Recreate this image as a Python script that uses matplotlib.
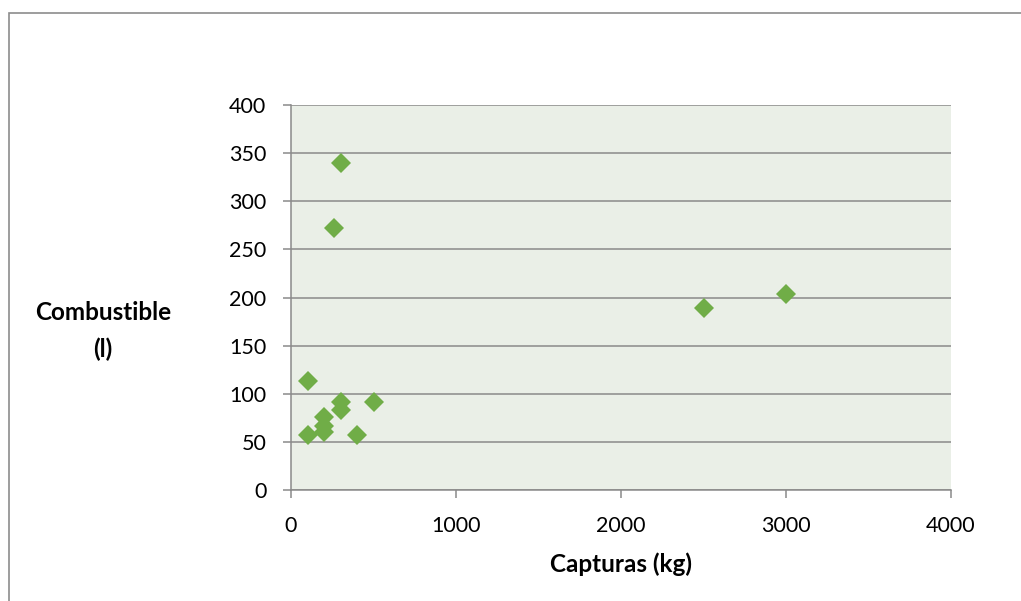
import matplotlib
matplotlib.use("Agg")
import matplotlib.pyplot as plt
from matplotlib.patches import Rectangle

capturas = [100, 300, 260, 2500, 3000, 100, 200, 200, 200, 300, 300, 400, 500]
combustible = [113, 340, 272, 189, 204, 57, 76, 67, 60, 91, 83, 57, 91]
xticks = [0, 1000, 2000, 3000, 4000]
yticks = [0, 50, 100, 150, 200, 250, 300, 350, 400]

W, H = 1021, 601
fig = plt.figure(figsize=(W/100, H/100), dpi=100)
plt.rcParams['font.family'] = ['Lato', 'DejaVu Sans']

# outer chart border (cropped at right/bottom)
fig.patches.append(Rectangle((9/W, -0.1), 1.2, 1 - 13/H + 0.1, transform=fig.transFigure,
                             fill=False, edgecolor='#8c8c8c', linewidth=1.2))

ax = fig.add_axes([291/W, 1 - 490/H, (951-291)/W, (490-105)/H])
ax.set_facecolor('#EAEFE7')
ax.set_xlim(0, 4000)
ax.set_ylim(0, 400)
ax.set_xticks(xticks)
ax.set_yticks(yticks)
ax.grid(axis='y', color='#8a8a8a', linewidth=1.1)
ax.set_axisbelow(True)
for s in ['top', 'right']:
    ax.spines[s].set_visible(False)
for s in ['left', 'bottom']:
    ax.spines[s].set_color('#8a8a8a')
    ax.spines[s].set_linewidth(1.1)
ax.tick_params(axis='both', colors='#8a8a8a', labelcolor='black', labelsize=15.5, length=5.8, width=1.1)
ax.tick_params(axis='y', pad=12)
ax.tick_params(axis='x', pad=13)

ax.plot(capturas, combustible, linestyle='none', marker='D', markersize=10.5,
        color='#70AD47', markeredgewidth=0, clip_on=False)

ax.set_xlabel('Capturas (kg)', fontsize=17.5, fontweight='bold', labelpad=12)
fig.text(103/W, 1 - 331/H, 'Combustible\n(l)', fontsize=17.5, fontweight='bold',
         ha='center', va='center', linespacing=1.65)

fig.savefig('out.png', dpi=100)
